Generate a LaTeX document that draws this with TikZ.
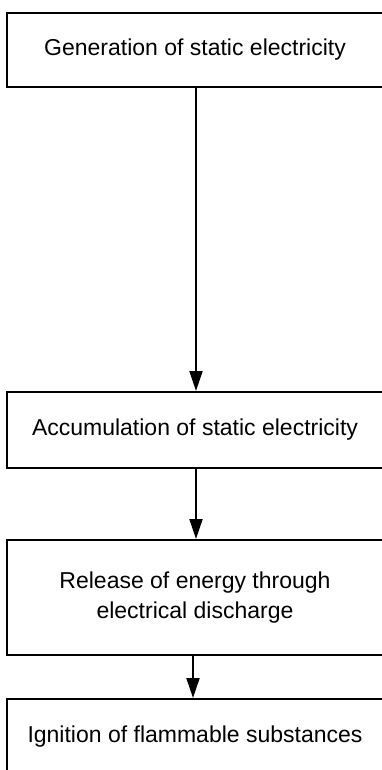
\documentclass[tikz,border=0pt]{standalone}
\usepackage{fontspec}
\setmainfont{Liberation Sans}
\usetikzlibrary{arrows.meta}
\tikzset{
  stepbox/.style={draw=black, line width=2pt, minimum width=376pt, inner sep=0pt, align=center,
    font=\fontsize{23}{30}\selectfont, text=black},
  flow/.style={line width=2pt, -{Triangle[length=20pt,width=13pt]}}
}
\begin{document}
\begin{tikzpicture}[x=1pt,y=-1pt]
\useasboundingbox (0,0) rectangle (381,770);
\node[stepbox, minimum height=74pt] (b1) at (195,50) {Generation of static electricity};
\node[stepbox, minimum height=76pt] (b2) at (195,430) {Accumulation of static electricity};
\node[stepbox, minimum height=115pt] (b3) at (195,597.5) {Release of energy through\\electrical discharge};
\node[stepbox, minimum height=76pt] (b4) at (195,737) {Ignition of flammable substances};
\draw[flow] ([xshift=1pt]b1.south) -- ([xshift=1pt]b2.north);
\draw[flow] ([xshift=1pt]b2.south) -- ([xshift=1pt]b3.north);
\draw[flow] ([xshift=-2pt]b3.south) -- ([xshift=-2pt]b4.north);
\end{tikzpicture}
\end{document}
